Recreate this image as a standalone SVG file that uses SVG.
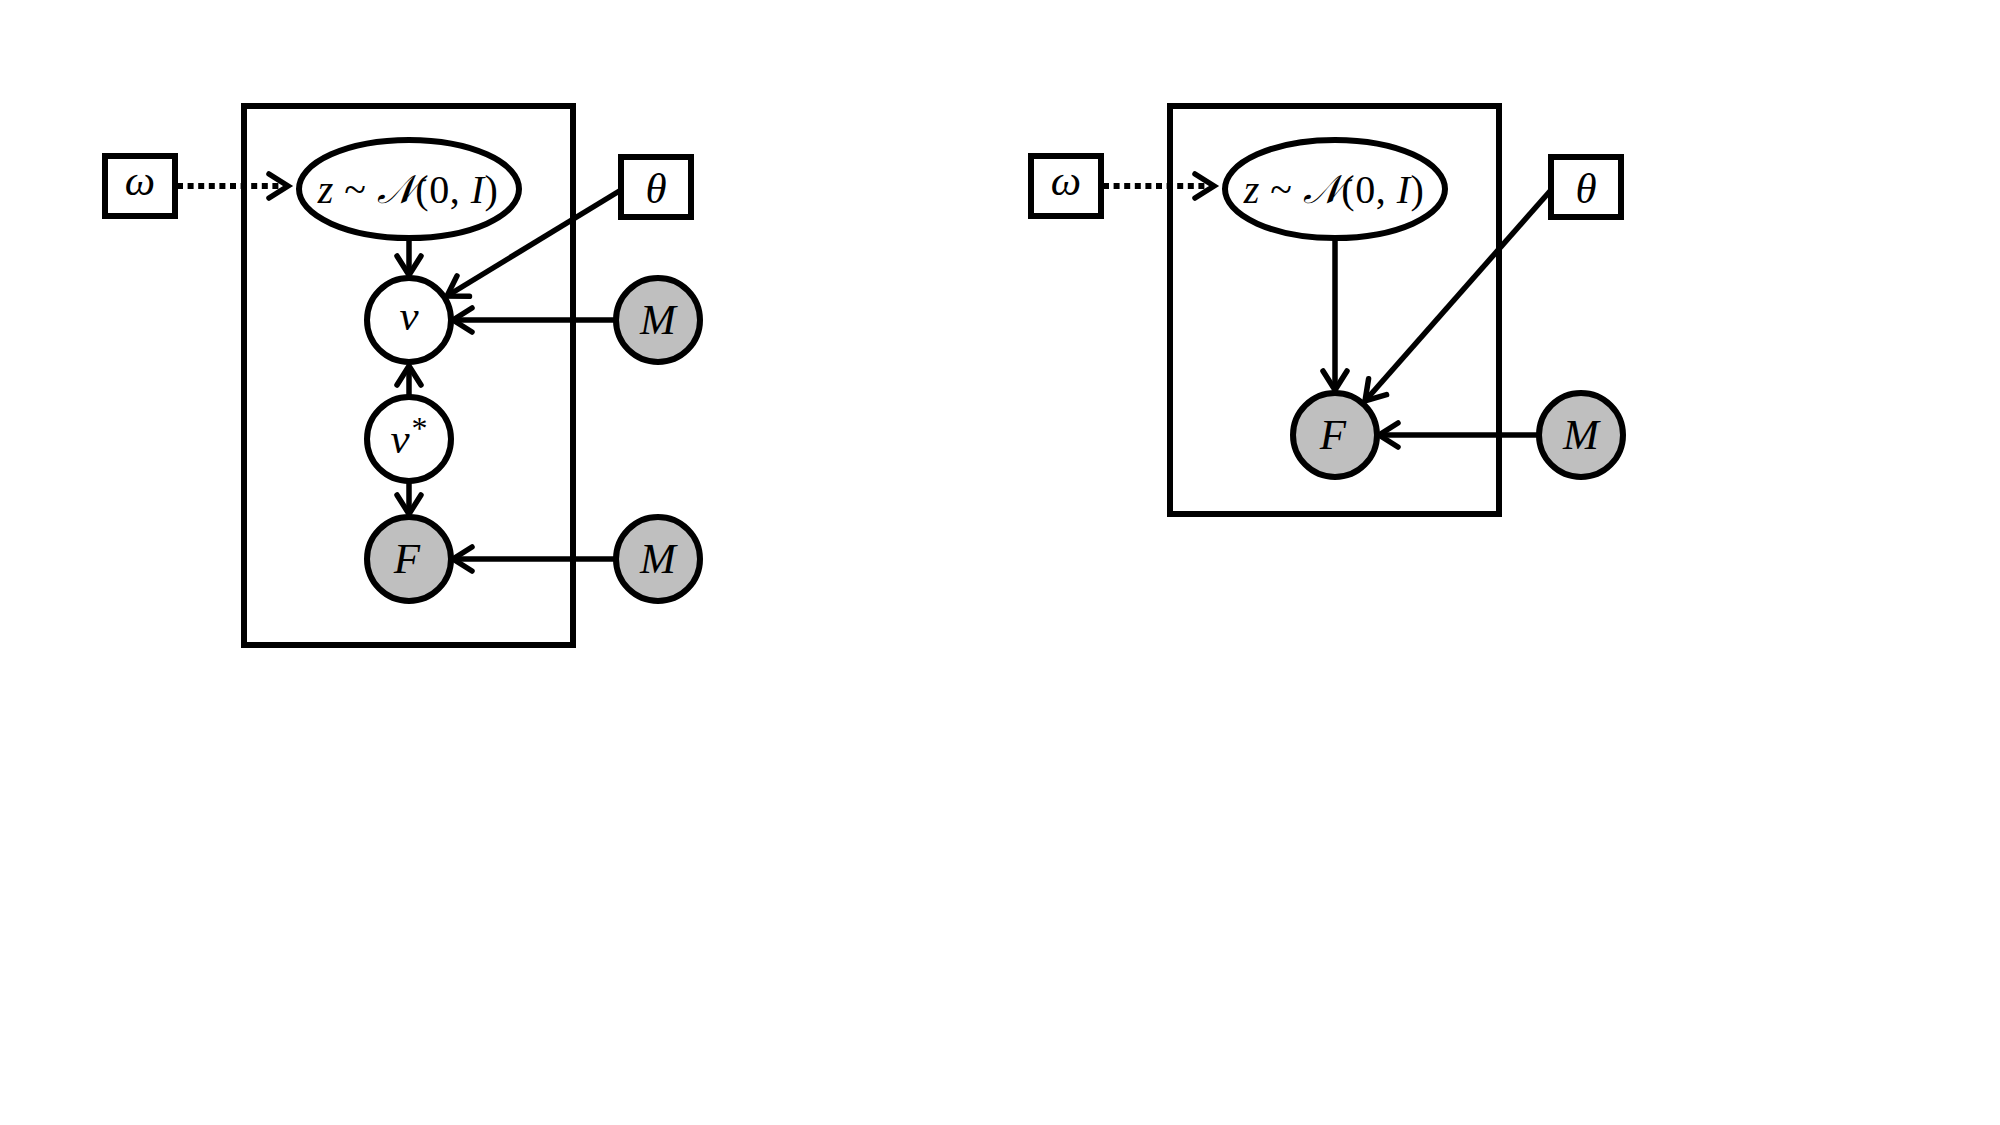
<svg xmlns="http://www.w3.org/2000/svg" width="2000" height="1125" viewBox="0 0 2000 1125">
<style>
.plate{fill:none;stroke:#000;stroke-width:6}
.box{fill:#fff;stroke:#000;stroke-width:6}
.lat{fill:#fff;stroke:#000;stroke-width:6}
.obs{fill:#bfbfbf;stroke:#000;stroke-width:6}
.edge{fill:none;stroke:#000;stroke-width:5.5;marker-end:url(#arr)}
.dot{fill:none;stroke:#000;stroke-width:6;stroke-dasharray:6 4.6;marker-end:url(#arr)}
.lbl{font-family:"Liberation Serif","DejaVu Serif",serif;font-style:italic;font-size:43px;fill:#000;text-anchor:middle}
.eq{font-family:"Liberation Serif","DejaVu Serif",serif;font-size:40px;letter-spacing:0.5px;fill:#000;text-anchor:middle}
.it{font-style:italic}
</style>
<defs>
<marker id="arr" markerUnits="userSpaceOnUse" markerWidth="40" markerHeight="40" refX="0" refY="0" orient="auto" overflow="visible">
<path d="M -19 -12 L 0 0 L -19 12" fill="none" stroke="#000" stroke-width="5.5" stroke-linecap="round" stroke-dasharray="none"/>
</marker>
</defs>
<rect width="2000" height="1125" fill="#fff"/>
<g id="plate-left"><rect class="plate" x="244" y="106" width="329" height="539"/></g>
<g id="plate-right"><rect class="plate" x="1170" y="106" width="329" height="408"/></g>
<g id="connectors">
<line class="dot" x1="177" y1="186" x2="288" y2="186"/>
<line class="edge" x1="409" y1="239" x2="409" y2="275"/>
<line class="edge" x1="621" y1="190" x2="447" y2="296"/>
<line class="edge" x1="616" y1="320" x2="453" y2="320"/>
<line class="edge" x1="409" y1="396" x2="409" y2="366"/>
<line class="edge" x1="409" y1="482" x2="409" y2="514"/>
<line class="edge" x1="616" y1="559" x2="453" y2="559"/>
<line class="dot" x1="1103" y1="186" x2="1214" y2="186"/>
<line class="edge" x1="1335" y1="239" x2="1335" y2="390"/>
<line class="edge" x1="1551" y1="190" x2="1365" y2="401"/>
<line class="edge" x1="1539" y1="435" x2="1379" y2="435"/>
</g>
<g id="omega-left"><rect class="box" x="105" y="156" width="70" height="60"/><text class="lbl" x="140" y="195">ω</text></g>
<g id="z-left"><ellipse class="lat" cx="409" cy="189" rx="110" ry="49"/><text class="eq" x="408" y="203"><tspan class="it">z</tspan> ~ <tspan class="it">𝒩</tspan>(0, <tspan class="it">I</tspan>)</text></g>
<g id="theta-left"><rect class="box" x="621" y="157" width="70" height="60"/><text class="lbl" x="656" y="203">θ</text></g>
<g id="v-left"><circle class="lat" cx="409" cy="320" r="42"/><text class="lbl" x="409" y="330">v</text></g>
<g id="M1-left"><circle class="obs" cx="658" cy="320" r="42"/><text class="lbl" x="658" y="334">M</text></g>
<g id="vstar-left"><circle class="lat" cx="409" cy="439" r="42"/><text class="lbl" x="409" y="453">v<tspan font-style="normal" font-size="32" dx="2" dy="-14">*</tspan></text></g>
<g id="F-left"><circle class="obs" cx="409" cy="559" r="42"/><text class="lbl" x="407" y="573">F</text></g>
<g id="M2-left"><circle class="obs" cx="658" cy="559" r="42"/><text class="lbl" x="658" y="573">M</text></g>
<g id="omega-right"><rect class="box" x="1031" y="156" width="70" height="60"/><text class="lbl" x="1066" y="195">ω</text></g>
<g id="z-right"><ellipse class="lat" cx="1335" cy="189" rx="110" ry="49"/><text class="eq" x="1334" y="203"><tspan class="it">z</tspan> ~ <tspan class="it">𝒩</tspan>(0, <tspan class="it">I</tspan>)</text></g>
<g id="theta-right"><rect class="box" x="1551" y="157" width="70" height="60"/><text class="lbl" x="1586" y="203">θ</text></g>
<g id="F-right"><circle class="obs" cx="1335" cy="435" r="42"/><text class="lbl" x="1333" y="449">F</text></g>
<g id="M-right"><circle class="obs" cx="1581" cy="435" r="42"/><text class="lbl" x="1581" y="449">M</text></g>
</svg>
